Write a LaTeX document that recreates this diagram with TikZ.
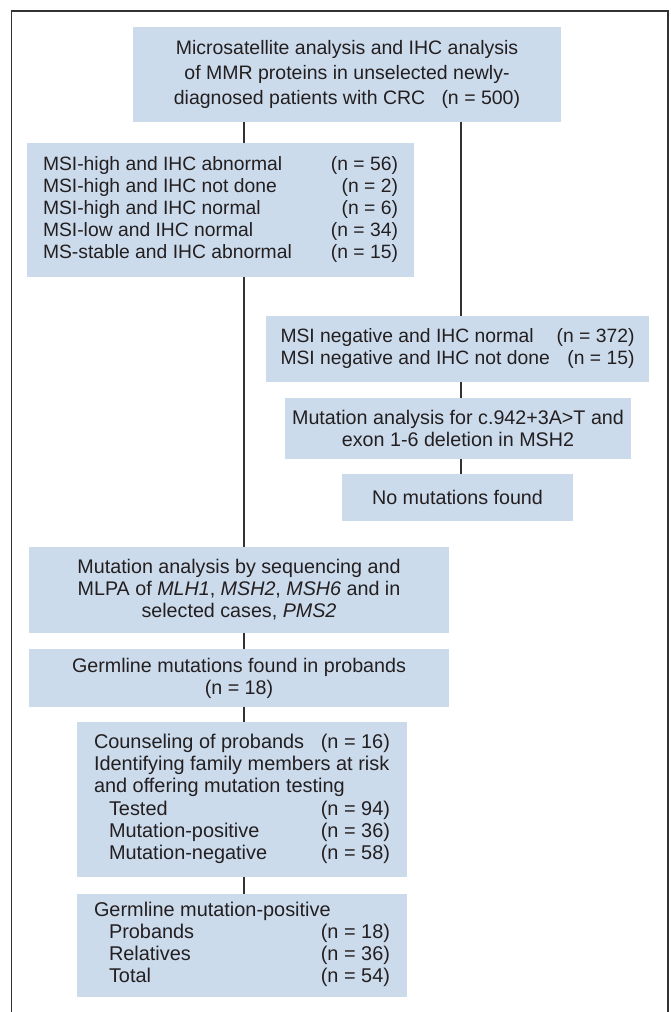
\documentclass[tikz,border=0pt]{standalone}
\usepackage{fontspec}
\setmainfont{Liberation Sans}
\usepackage{array}
\definecolor{boxfill}{RGB}{204,219,236}
\definecolor{ink}{RGB}{35,31,32}
\definecolor{linec}{RGB}{50,50,50}
\begin{document}
\begin{tikzpicture}[x=1pt,y=-1pt,
  box/.style={fill=boxfill, inner sep=0pt, text=ink, font=\fontsize{19.7}{22}\selectfont},
  conn/.style={draw=linec, line width=1.4pt},
  frame/.style={draw=linec, line width=1.3pt}]
\useasboundingbox (0,0) rectangle (671,1012);
\draw[frame] (11.7,1012) -- (11.7,11) -- (668,11) -- (668,1012);

% boxes
\node[box, minimum width=428pt, minimum height=95pt, align=center,
      font=\fontsize{19.5}{25}\selectfont] (top) at (347,74.5)
  {Microsatellite analysis and IHC analysis\\of MMR proteins in unselected newly-\\diagnosed patients with CRC\ \ \ (n = 500)};

\node[box, minimum width=387pt, minimum height=134pt,
      font=\fontsize{19.3}{22}\selectfont] (l1) at (220.5,210)
  {\begin{tabular*}{355pt}{@{}l@{\extracolsep{\fill}}r@{}}
   MSI-high and IHC abnormal & (n = 56)\\
   MSI-high and IHC not done & (n = 2)\\
   MSI-high and IHC normal & (n = 6)\\
   MSI-low and IHC normal & (n = 34)\\
   MS-stable and IHC abnormal & (n = 15)
   \end{tabular*}};

\node[box, minimum width=383pt, minimum height=66pt,
      font=\fontsize{19.3}{22}\selectfont] (r1) at (457.5,349)
  {\begin{tabular*}{354pt}{@{}l@{\extracolsep{\fill}}r@{}}
   MSI negative and IHC normal & (n = 372)\\
   MSI negative and IHC not done & (n = 15)
   \end{tabular*}};

\node[box, minimum width=346pt, minimum height=61pt, align=center] (r2) at (458,428.5)
  {Mutation analysis for c.942+3A>T and\\exon 1-6 deletion in MSH2};

\node[box, minimum width=231pt, minimum height=47pt] (r3) at (457.5,497.5)
  {No mutations found};

\node[box, minimum width=420pt, minimum height=86pt, align=center] (l2) at (239,590)
  {Mutation analysis by sequencing and\\MLPA of \textit{MLH1}, \textit{MSH2}, \textit{MSH6} and in\\selected cases, \textit{PMS2}};

\node[box, minimum width=420pt, minimum height=58pt, align=center] (l3) at (239,678)
  {Germline mutations found in probands\\(n = 18)};

\node[box, minimum width=330pt, minimum height=155pt,
      font=\fontsize{19.9}{22.2}\selectfont] (l4) at (242,799.5)
  {\begin{tabular*}{296pt}{@{}l@{\extracolsep{\fill}}r@{}}
   Counseling of probands & (n = 16)\\
   \multicolumn{2}{@{}l@{}}{Identifying family members at risk}\\
   \multicolumn{2}{@{}l@{}}{and offering mutation testing}\\
   \hspace*{15pt}Tested & (n = 94)\\
   \hspace*{15pt}Mutation-positive & (n = 36)\\
   \hspace*{15pt}Mutation-negative & (n = 58)
   \end{tabular*}};

\node[box, minimum width=330pt, minimum height=103pt,
      font=\fontsize{19.9}{22}\selectfont] (l5) at (242,945.5)
  {\begin{tabular*}{296pt}{@{}l@{\extracolsep{\fill}}r@{}}
   \multicolumn{2}{@{}l@{}}{Germline mutation-positive}\\
   \hspace*{15pt}Probands & (n = 18)\\
   \hspace*{15pt}Relatives & (n = 36)\\
   \hspace*{15pt}Total & (n = 54)
   \end{tabular*}};

% connector columns
\coordinate (cl) at (244,0);
\coordinate (cr) at (461,0);

\draw[conn] (top.south -| cl) -- (l1.north -| cl);
\draw[conn] (l1.south -| cl) -- (l2.north -| cl);
\draw[conn] (l2.south -| cl) -- (l3.north -| cl);
\draw[conn] (l3.south -| cl) -- (l4.north -| cl);
\draw[conn] (l4.south -| cl) -- (l5.north -| cl);

\draw[conn] (top.south -| cr) -- (r1.north -| cr);
\draw[conn] (r1.south -| cr) -- (r2.north -| cr);
\draw[conn] (r2.south -| cr) -- (r3.north -| cr);
\end{tikzpicture}
\end{document}
